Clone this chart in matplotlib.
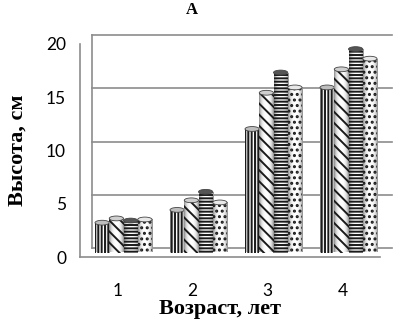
import matplotlib
matplotlib.use('Agg')
import matplotlib.pyplot as plt
import matplotlib.transforms as mtransforms
from matplotlib.patches import Ellipse
import numpy as np

categories = ['1', '2', '3', '4']
s1 = [2.8, 4.0, 11.6, 15.5]
s2 = [3.2, 4.9, 15.0, 17.2]
s3 = [3.0, 5.7, 16.9, 19.1]
s4 = [3.1, 4.7, 15.5, 18.2]
series = [s1, s2, s3, s4]
hatches = ['|||||', '\\\\\\', '-----', '...']
top_colors = ['#bdbdbd', '#cfcfcf', '#555555', '#e8e8e8']
yticks = [0, 5, 10, 15, 20]

GRID = '#8c8c8c'
DX, DY = 12, 9  # depth of the 3d wall, px

plt.rcParams['hatch.linewidth'] = 1.4

fig = plt.figure(figsize=(3.96, 3.24), dpi=100)
ax = fig.add_axes([80 / 396, 67 / 324, 300 / 396, 213 / 324])
for s in ax.spines.values():
    s.set_visible(False)

back = ax.transData + mtransforms.ScaledTranslation(DX / 100, DY / 100, fig.dpi_scale_trans)
mid = ax.transData + mtransforms.ScaledTranslation(DX / 200, DY / 200, fig.dpi_scale_trans)

# walls and grid
for v in yticks:
    ax.plot([-0.5, 3.5], [v, v], color=GRID, lw=1.2, transform=back, clip_on=False)
    p0 = ax.transData.transform((-0.5, v))
    p1 = back.transform((-0.5, v))
    ax.plot([p0[0] - 5, p0[0], p1[0]], [p0[1], p0[1], p1[1]], color=GRID, lw=1.2,
            transform=None, clip_on=False)
ax.plot([-0.5, -0.5], [0, 20], color=GRID, lw=1.2, transform=back, clip_on=False)
ax.plot([-0.5, -0.5], [0, 20], color=GRID, lw=1.2, clip_on=False)
ax.plot([-0.5, 3.5], [0, 0], color=GRID, lw=1.2, clip_on=False)
p0 = ax.transData.transform((3.5, 0))
p1 = back.transform((3.5, 0))
ax.plot([p0[0], p1[0]], [p0[1], p1[1]], color=GRID, lw=1.2, transform=None, clip_on=False)

# cylinder shading
grad = np.abs(np.linspace(-1, 1, 64)) ** 2
grad = np.vstack([grad, grad])

# bars
x = np.arange(len(categories))
w = 0.19
offs = [-1.5 * w, -0.5 * w, 0.5 * w, 1.5 * w]
z = 3
for vals, h, o, tc in zip(series, hatches, offs, top_colors):
    base = ax.bar(x + o, vals, width=w, facecolor='white', linewidth=0,
                  transform=mid, clip_on=False, zorder=z)
    for b, xi, v in zip(base, x + o, vals):
        im = ax.imshow(grad, cmap='Greys', vmin=0, vmax=1.8, aspect='auto',
                       extent=(xi - w / 2, xi + w / 2, 0, v), transform=mid,
                       zorder=z + 0.1, interpolation='bilinear')
        im.set_clip_path(b)
    ax.bar(x + o, vals, width=w, facecolor='none', edgecolor='#1a1a1a',
           hatch=h, linewidth=0, transform=mid, clip_on=False, zorder=z + 0.2)
    for xi, v in zip(x + o, vals):
        ax.add_patch(Ellipse((xi, v), w, 0.45, facecolor=tc,
                             edgecolor='#444444', lw=0.6,
                             transform=mid, clip_on=False, zorder=z + 0.3))
    z += 1

ax.set_xlim(-0.5, 3.5)
ax.set_ylim(0, 20)
ax.set_xticks(x)
ax.set_xticklabels(categories, family='Lato', fontsize=12.5)
ax.set_yticks(yticks)
ax.set_yticklabels([str(v) for v in yticks], family='Lato', fontsize=12.5)
ax.tick_params(axis='x', length=0, pad=19)
ax.tick_params(axis='y', length=0, pad=10)

fig.text(18 / 396, 1 - 150 / 324, 'Высота, см', family='Liberation Serif',
         fontweight='bold', fontsize=16, rotation=90, ha='center', va='center')
fig.text(220 / 396, 1 - 309 / 324, 'Возраст, лет', family='Liberation Serif',
         fontweight='bold', fontsize=16, ha='center', va='center')
fig.text(192 / 396, 1 - 10 / 324, 'A', family='Liberation Serif',
         fontweight='bold', fontsize=12, ha='center', va='center')

fig.savefig('out.png', dpi=100)
